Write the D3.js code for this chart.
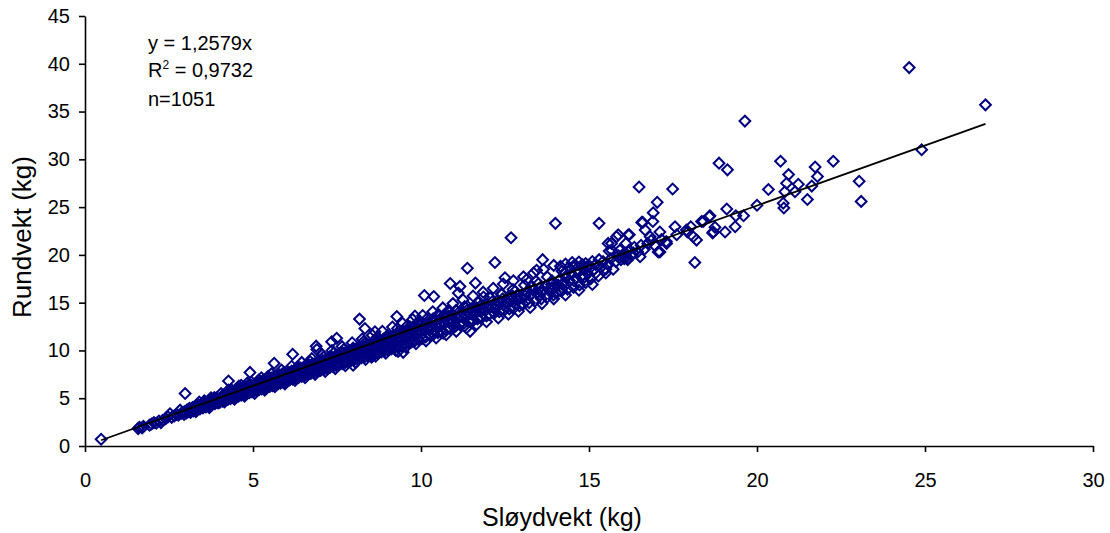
<!DOCTYPE html>
<html><head><meta charset="utf-8">
<title>Sløydvekt vs rundvekt</title>
<script src="https://cdn.jsdelivr.net/npm/d3@7"></script>
<style>
  body { margin: 0; background: #fff; }
  text { font-family: Arial, "Liberation Sans", sans-serif; fill: #000; }
  .axis path, .axis line { stroke: #000; stroke-width: 1.6; }
  .axis text { font-size: 20px; }
  .pt { fill: none; stroke: #000080; stroke-width: 2; }
  .trend { stroke: #000; stroke-width: 1.8; fill: none; }
</style>
</head>
<body>
<svg id="chart" width="1110" height="533"></svg>

<script>
// ticks
var xTicks = [0, 5, 10, 15, 20, 25, 30]
var yTicks = [0, 5, 10, 15, 20, 25, 30, 35, 40, 45]

// regression shown in the chart
var slope = 1.2579
var trendX = [0.48, 26.8]
var statLines = ["y = 1,2579x", "R", "n=1051"]

// dense band of fish, [sløydvekt, rundvekt]
var bandPoints = [
  [1.58,1.82],[1.62,1.95],[1.7,1.9],[1.74,2.05],[1.92,2.18],[1.98,2.3],[2.05,2.45],[2.12,2.38],[2.2,2.62],[2.26,2.45],
  [2.31,2.7],[2.4,2.86],[2.47,3.05],[2.53,3.38],[2.58,3.0],[2.66,3.15],[2.72,3.3],[2.78,3.22],[2.83,3.75],[2.86,3.4],
  [2.92,3.52],[2.95,3.3],[2.98,3.62],
  [3.02,3.45],[3.04,3.78],[3.09,3.6],[3.11,3.95],[3.14,3.5],[3.17,3.82],[3.2,4.02],[3.23,3.66],[3.27,3.9],[3.29,4.18],
  [3.33,3.75],[3.36,4.05],[3.38,4.28],[3.42,3.88],[3.45,4.12],[3.48,4.4],[3.51,3.98],[3.54,4.25],[3.57,4.52],[3.6,4.08],
  [3.63,4.38],[3.66,4.62],[3.69,4.2],[3.72,4.46],[3.75,4.78],[3.77,4.3],[3.81,4.58],[3.84,4.88],[3.87,4.42],[3.9,4.7],
  [3.93,4.98],[3.96,4.5],[3.99,4.82],[3.55,4.72],[3.85,5.08],
  [4.01,4.55],[4.03,4.9],[4.06,5.18],[4.09,4.68],[4.12,5.02],[4.14,5.3],[4.17,4.75],[4.2,5.12],[4.22,5.42],[4.25,4.86],
  [4.28,5.22],[4.3,5.5],[4.33,4.95],[4.36,5.32],[4.38,5.62],[4.41,5.05],[4.44,5.42],[4.46,5.78],[4.49,5.15],[4.52,5.55],
  [4.54,5.85],[4.57,5.22],[4.6,5.62],[4.62,5.98],[4.65,5.32],[4.68,5.74],[4.7,6.06],[4.73,5.4],[4.76,5.82],[4.78,6.18],
  [4.81,5.5],[4.84,5.92],[4.86,6.26],[4.89,5.58],[4.92,6.02],[4.94,6.38],[4.97,5.66],[4.99,6.1],[4.27,5.85],[4.58,6.28],
  [4.83,6.6],[4.4,5.25],[4.7,5.6],
  [5.02,5.72],[5.04,6.15],[5.07,6.5],[5.1,5.8],[5.12,6.25],[5.15,6.62],[5.18,5.88],[5.2,6.35],[5.23,6.72],[5.26,5.96],
  [5.28,6.44],[5.31,6.85],[5.34,6.05],[5.36,6.55],[5.39,6.92],[5.42,6.12],[5.44,6.65],[5.47,7.05],[5.5,6.22],[5.52,6.75],
  [5.55,7.12],[5.58,6.3],[5.6,6.86],[5.63,7.25],[5.66,6.4],[5.68,6.95],[5.71,7.35],[5.74,6.5],[5.76,7.05],[5.79,7.45],
  [5.82,6.58],[5.84,7.15],[5.87,7.55],[5.9,6.66],[5.92,7.25],[5.95,7.65],[5.98,6.75],[5.06,5.95],[5.33,6.3],[5.63,6.62],
  [5.91,6.98],[5.45,7.3],[5.17,6.9],
  [6.01,6.82],[6.03,7.35],[6.06,7.72],[6.09,6.9],[6.12,7.45],[6.15,7.85],[6.18,6.98],[6.2,7.55],[6.24,7.95],[6.27,7.08],
  [6.3,7.65],[6.33,8.05],[6.36,7.18],[6.39,7.75],[6.42,8.15],[6.45,7.28],[6.48,7.88],[6.51,8.25],[6.54,7.38],[6.57,7.98],
  [6.6,8.38],[6.63,7.48],[6.66,8.08],[6.69,8.48],[6.72,7.58],[6.75,8.2],[6.78,8.6],[6.81,7.68],[6.84,8.3],[6.87,8.7],
  [6.9,7.78],[6.93,8.4],[6.96,8.82],[6.99,7.88],[6.2,7.2],[6.5,7.6],[6.8,7.95],[6.35,8.3],[6.7,8.85],
  [7.02,7.92],[7.05,8.55],[7.08,8.95],[7.11,8.02],[7.14,8.65],[7.17,9.05],[7.2,8.12],[7.23,8.78],[7.26,9.18],[7.29,8.22],
  [7.32,8.88],[7.35,9.28],[7.38,8.32],[7.41,8.98],[7.44,9.4],[7.47,8.42],[7.5,9.1],[7.53,9.5],[7.56,8.52],[7.59,9.2],
  [7.62,9.62],[7.65,8.62],[7.68,9.32],[7.71,9.72],[7.74,8.72],[7.77,9.45],[7.8,9.85],[7.83,8.82],[7.86,9.55],[7.89,9.95],
  [7.92,8.92],[7.95,9.65],[7.98,10.08],[7.4,9.7],[7.1,9.3],[7.7,10.1],[7.3,8.6],
  [8.02,9.02],[8.05,9.78],[8.08,10.2],[8.12,9.12],[8.15,9.9],[8.18,10.32],[8.22,9.22],[8.25,10.0],[8.28,10.45],[8.32,9.32],
  [8.35,10.12],[8.38,10.55],[8.42,9.42],[8.45,10.25],[8.48,10.68],[8.52,9.52],[8.55,10.35],[8.58,10.8],[8.62,9.62],[8.65,10.48],
  [8.68,10.92],[8.72,9.72],[8.75,10.6],[8.78,11.05],[8.82,9.85],[8.85,10.72],[8.88,11.18],[8.92,9.95],[8.95,10.85],[8.98,11.3],
  [8.3,10.95],[8.7,11.4],[8.5,9.9],[8.9,10.35],
  [9.02,10.05],[9.05,10.95],[9.08,11.4],[9.12,10.15],[9.15,11.08],[9.18,11.55],[9.22,10.28],[9.25,11.2],[9.28,11.68],[9.32,10.4],
  [9.35,11.32],[9.38,11.82],[9.42,10.52],[9.45,11.45],[9.48,11.95],[9.52,10.65],[9.55,11.58],[9.58,12.08],[9.62,10.78],[9.65,11.7],
  [9.68,12.2],[9.72,10.9],[9.75,11.82],[9.78,12.32],[9.82,11.02],[9.85,11.95],[9.88,12.45],[9.92,11.15],[9.95,12.08],[9.98,12.58],
  [9.3,12.3],[9.6,12.6],[9.9,12.95],[9.15,10.7],
  [10.03,11.25],[10.07,12.2],[10.1,12.7],[10.14,11.4],[10.18,12.35],[10.22,12.85],[10.26,11.55],[10.3,12.5],[10.34,13.0],[10.38,11.7],
  [10.42,12.65],[10.46,13.15],[10.5,11.85],[10.54,12.8],[10.58,13.3],[10.62,12.0],[10.66,12.95],[10.7,13.45],[10.74,12.15],[10.78,13.1],
  [10.82,13.6],[10.86,12.3],[10.9,13.25],[10.94,13.75],[10.98,12.45],[10.2,13.4],[10.5,13.7],[10.8,14.1],[10.4,12.0],
  [11.03,12.55],[11.07,13.4],[11.1,13.9],[11.15,12.7],[11.2,13.55],[11.24,14.05],[11.28,12.85],[11.33,13.7],[11.37,14.2],[11.42,13.0],
  [11.46,13.85],[11.5,14.35],[11.55,13.15],[11.6,14.0],[11.64,14.5],[11.68,13.3],[11.73,14.15],[11.77,14.65],[11.82,13.45],[11.86,14.3],
  [11.9,14.8],[11.95,13.6],[11.98,14.45],[11.3,14.6],[11.7,15.0],[11.5,12.95],
  [12.03,13.75],[12.08,14.6],[12.12,15.1],[12.18,13.9],[12.23,14.75],[12.28,15.25],[12.33,14.05],[12.38,14.9],[12.43,15.4],[12.48,14.2],
  [12.53,15.05],[12.58,15.55],[12.63,14.35],[12.68,15.2],[12.73,15.7],[12.78,14.5],[12.83,15.35],[12.88,15.85],[12.93,14.65],[12.97,15.5],
  [12.4,15.85],[12.8,16.2],[12.2,14.4],
  [13.04,14.85],[13.1,15.7],[13.15,16.15],[13.22,15.0],[13.28,15.85],[13.34,16.3],[13.4,15.2],[13.46,16.0],[13.52,16.5],[13.58,15.4],
  [13.64,16.2],[13.7,16.7],[13.76,15.6],[13.82,16.4],[13.88,16.9],[13.94,15.8],[13.98,16.6],[13.5,17.0],[13.9,17.3],[13.3,16.7],
  [14.03,16.0],[14.08,16.85],[14.12,17.4],[14.18,16.2],[14.24,17.05],[14.3,17.7],[14.36,16.4],[14.42,17.3],[14.48,18.0],[14.54,16.6],
  [14.6,17.55],[14.66,18.3],[14.72,16.85],[14.78,17.8],[14.84,18.5],[14.9,17.1],[14.96,18.05],[14.2,18.3],[14.4,18.7],[14.6,18.9],
  [14.8,19.0],[14.3,19.05],[14.5,19.2],[14.7,19.25],[14.9,19.1],[14.15,18.8],[14.95,18.7],
  [15.05,17.5],[15.12,18.4],[15.2,19.0],[15.28,17.8],[15.35,18.7],[15.42,19.3],[15.5,18.1],[15.58,19.0],[15.65,19.6],[15.72,18.5],
  [15.8,19.3],[15.88,19.9],[15.95,19.5],[16.02,19.8],[16.08,20.2],[16.15,19.6],[16.2,20.5],[16.28,20.0],[16.35,20.8],[16.45,20.3],
  [16.55,21.0],[16.65,20.6],[16.75,21.2],[16.85,21.5],[16.95,21.0],[15.1,19.3],[15.3,19.5],[15.0,18.9],[15.6,20.4],[16.1,21.2]
]

// lower and upper fringe of the band, plus fill in between
var bandFringe = [
  [3.3,3.6],[3.7,4.0],[4.15,4.6],[4.45,4.9],[4.75,5.2],[5.05,5.5],[5.35,5.85],[5.65,6.2],[5.95,6.5],[6.25,6.85],
  [6.55,7.15],[6.85,7.5],[7.15,7.8],[7.45,8.1],[7.75,8.4],[8.05,8.75],[8.35,9.05],[8.65,9.4],[8.95,9.7],[9.25,10.0],
  [9.55,10.35],[9.85,10.7],[10.15,11.0],[10.45,11.3],[10.75,11.65],[11.05,12.0],[11.35,12.35],[11.65,12.7],[11.95,13.0],[12.3,13.4],
  [12.6,13.8],[12.9,14.1],[13.25,14.5],[13.6,14.9],[13.95,15.4],[14.3,15.8],[14.7,16.3],[15.1,16.9],
  [3.4,4.6],[3.75,5.05],[4.05,5.5],[4.35,5.9],[4.65,6.35],[4.95,6.7],[5.25,7.15],[5.55,7.55],[5.85,7.95],[6.15,8.35],
  [6.45,8.75],[6.75,9.15],[7.05,9.6],[7.35,10.0],[7.65,10.4],[7.95,10.8],[8.25,11.2],[8.55,11.6],[8.85,12.0],[9.15,12.45],
  [9.45,12.85],[9.75,13.25],[10.05,13.65],[10.35,14.05],[10.65,14.45],[10.95,14.9],[11.25,15.3],[11.55,15.7],[11.85,16.1],[12.15,16.5],
  [12.45,16.95],[12.75,17.3],[13.05,17.7],[13.35,18.1],[13.65,18.5],[13.95,18.9],
  [3.13,3.72],[3.46,4.1],[3.79,4.5],[4.11,4.88],[4.43,5.3],[4.77,5.65],[5.09,6.05],[5.41,6.45],[5.73,6.85],[6.07,7.2],
  [6.39,7.6],[6.71,8.0],[7.03,8.35],[7.37,8.75],[7.69,9.15],[8.01,9.5],[8.33,9.9],[8.67,10.3],[8.99,10.7],[9.31,11.05],
  [9.63,11.45],[9.97,11.85],[10.29,12.25],[10.61,12.6],[10.93,13.0],[11.27,13.4],[11.59,13.8],[11.91,14.15],[12.25,14.6],[12.57,14.95],
  [12.91,15.35],[13.23,15.75],[13.57,16.15],[13.89,16.55],[14.21,16.9],[14.55,17.3],[14.87,17.7],[15.2,18.1],[15.5,18.5],
  [3.58,4.6],[3.92,5.05],[4.26,5.48],[4.59,5.9],[4.93,6.33],[5.27,6.78],[5.61,7.2],[5.94,7.65],[6.28,8.07],[6.62,8.5],
  [6.96,8.95],[7.3,9.38],[7.64,9.82],[7.98,10.25],[8.32,10.7],[8.66,11.13],[9.0,11.57],[9.34,12.0],[9.68,12.45],[10.02,12.88],
  [10.36,13.32],[10.7,13.75],[11.04,14.19],[11.38,14.62],[11.72,15.06],[12.06,15.5],[12.4,15.93],[12.74,16.37],[13.08,16.81],[13.42,17.25],
  [13.76,17.68]
]

// points standing out of the band
var loosePoints = [
  [0.48,0.7],[2.98,5.5],
  [4.27,6.8],[4.91,7.7],[5.63,8.65],[6.18,9.6],[6.9,10.1],[6.88,10.45],[7.34,10.9],[7.49,11.27],[8.17,13.28],[8.33,12.3],
  [8.63,11.96],[7.98,8.45],[8.53,9.3],[9.32,9.9],[9.47,9.8],
  [9.28,13.55],[9.82,13.6],[10.1,15.75],[10.38,15.65],[11.11,16.0],[10.87,17.0],[11.16,16.7],[11.62,17.05],[11.38,18.6],
  [11.86,15.6],[12.2,19.2],[12.68,21.8],[12.5,17.6],[13.14,17.4],[13.44,18.4],[13.62,19.5],[14.0,23.3],[15.3,23.3],[14.2,16.5],
  [15.03,17.5],[11.46,12.0],[10.66,11.8],[14.53,18.8],[14.3,18.1],[15.43,18.4],
  [16.49,27.1],[17.49,26.9],[17.03,25.5],[16.91,24.4],[16.57,23.4],[16.9,23.5],[16.6,23.4],[15.87,22.1],[16.17,22.1],[17.11,20.3],
  [15.82,21.9],[15.67,21.2],[15.57,21.2],[15.67,20.5],[15.92,20.5],[16.12,19.8],[16.32,20.2],[16.52,19.8],[16.2,22.1],[16.67,22.6],
  [16.82,21.9],[17.16,21.6],[17.31,21.2],[17.06,20.3],[17.11,22.4],[17.56,22.95],[17.61,22.1],[17.93,22.4],[18.03,22.95],[18.1,21.9],
  [18.2,21.55],[18.15,19.2],[18.35,23.5],[18.6,24.1],[18.68,22.3],[18.75,22.9],[19.05,22.4],[19.35,22.95],[19.37,24.1],[19.6,24.1],
  [19.1,24.8],[20.0,25.2],[20.34,26.85],[18.87,29.6],[19.12,28.9],[19.64,34.0],[20.7,29.8],[20.94,28.4],[20.88,27.5],[20.83,26.6],
  [20.78,25.4],[20.8,24.9],[21.13,26.6],[21.23,27.4],[21.5,25.8],[21.63,27.2],[21.8,28.2],[21.73,29.2],[22.27,29.8],[23.04,27.7],
  [23.1,25.6],[24.53,39.6],[24.9,31.0],[26.8,35.7],[18.4,23.5],[18.58,24.0],[18.7,22.4],[17.9,22.6],[17.3,21.4],[16.0,20.0],
  [16.05,19.6],[16.15,19.5]
]

var svg = d3.select("#chart")

var x = d3.scaleLinear().domain([0, 30]).range([85, 1093])
var y = d3.scaleLinear().domain([0, 45]).range([446, 16])

// axes
svg.append("g").attr("class", "axis")
  .attr("transform", "translate(0,446)")
  .call(d3.axisBottom(x).tickValues(xTicks).tickSize(6).tickSizeOuter(0).tickPadding(21))

svg.append("g").attr("class", "axis")
  .attr("transform", "translate(85,0)")
  .call(d3.axisLeft(y).tickValues(yTicks).tickSize(6).tickSizeOuter(0).tickPadding(9))

// markers
var diamond = d3.symbol().type(d3.symbolSquare).size(58)
svg.append("g").selectAll("path")
  .data(bandPoints.concat(bandFringe, loosePoints))
  .join("path")
  .attr("class", "pt")
  .attr("d", diamond)
  .attr("transform", d => "translate(" + x(d[0]) + "," + y(d[1]) + ") rotate(45)")

// trend line
svg.append("line").attr("class", "trend")
  .attr("x1", x(trendX[0])).attr("y1", y(trendX[0] * slope))
  .attr("x2", x(trendX[1])).attr("y2", y(trendX[1] * slope))

// equation text
var note = svg.append("g").style("font-size", "20px")
note.append("text").attr("x", 148).attr("y", 50).text(statLines[0])
var r2 = note.append("text").attr("x", 148).attr("y", 77)
r2.append("tspan").text(statLines[1])
r2.append("tspan").attr("dy", -8).style("font-size", "12px").text("2")
r2.append("tspan").attr("dy", 8).text(" = 0,9732")
note.append("text").attr("x", 148).attr("y", 106).text(statLines[2])

// axis titles
svg.append("text").attr("x", 562).attr("y", 526)
  .attr("text-anchor", "middle").style("font-size", "25px").text("Sløydvekt (kg)")
svg.append("text")
  .attr("transform", "translate(31,237) rotate(-90)")
  .attr("text-anchor", "middle").style("font-size", "26px").text("Rundvekt (kg)")
</script>
</body>
</html>
